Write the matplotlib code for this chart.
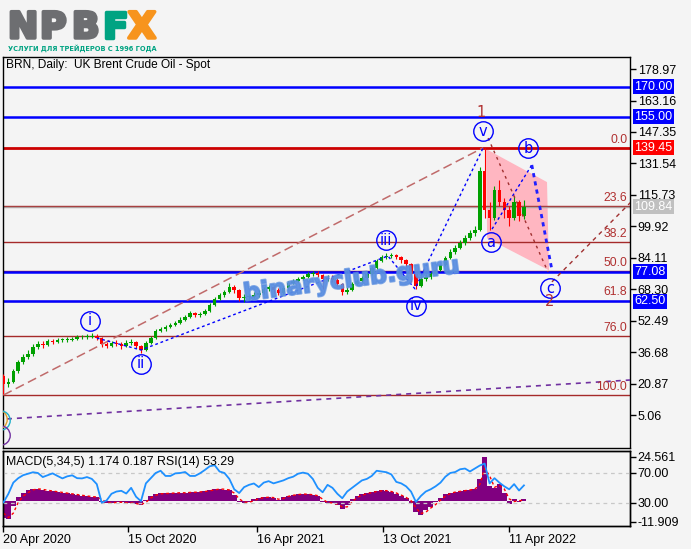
import matplotlib
matplotlib.use("Agg")
import matplotlib.pyplot as plt
import matplotlib.patheffects as pe
import numpy as np
import pandas as pd
from matplotlib.patches import Polygon

W, H = 691, 549
BG = "#f4f4f4"

# ---- data (weekly bars) ----
start = pd.Timestamp("2020-04-20")
first_open = 25.0
closes = [21, 22, 27.5, 32, 34.5, 36, 39.5, 41, 40.4, 42.5,
          42, 43, 43, 43, 43.4, 44.2, 44.6, 44.6, 45, 44,
          41, 40, 41.4, 41, 40, 41.4, 42, 40, 38, 41.5,
          44, 47.5, 48.5, 49.5, 50.5, 51.5, 53, 54.5, 56.5, 55.5,
          56, 57.5, 60.5, 63.5, 65.5, 67, 69.5, 68, 64, 64.5,
          64.7, 65.5, 66.5, 68.5, 69.5, 68, 66.5, 69, 71.5, 72.5,
          73.5, 74.5, 76, 76.5, 75.5, 73.5, 74, 73, 71, 67,
          68, 71, 72.5, 74, 76, 79, 82.5, 84.5, 85, 85.5,
          84.5, 83, 81, 76, 70, 73.5, 74.5, 76, 78, 80.5,
          84, 87, 89, 91.5, 94, 96.5, 98, 128, 108, 104,
          118, 112, 108, 104, 112, 105, 109.84]
lows = [15.5, 19.5, 21.5, 26.5, 31, 33.5, 35, 38.5, 39, 40,
        41, 41.5, 42, 42, 42.5, 43, 43.5, 43.5, 44, 43,
        39.5, 39, 39.5, 40, 38.5, 39.5, 40.5, 39, 36.5, 37.5,
        41, 43.5, 47, 47.5, 49, 50, 51, 52.5, 54, 54.5,
        54.5, 55.5, 57, 60, 63, 64.5, 66.5, 66.5, 62.5, 62,
        63, 64, 64.5, 66, 67.5, 66.5, 65.5, 66, 68.5, 71,
        72, 73, 74, 75, 74.5, 68.5, 72.5, 72, 70, 65.5,
        66, 67.5, 70.5, 72, 73.5, 75.5, 78.5, 82, 83.5, 84,
        83.5, 81.5, 79.5, 72, 68.5, 69.5, 72.5, 73.5, 75.5, 77.5,
        80, 83.5, 86, 88.5, 90.5, 93, 95, 97.5, 104, 98,
        103, 110, 104, 100, 103, 102.5, 103.5]
highs = [26, 24, 28.5, 33, 36, 38, 41, 42.5, 42.5, 43.5,
         43.5, 44, 44, 44.5, 44.5, 45.5, 45.5, 46, 46.5, 46,
         44.5, 42, 42.5, 43, 42, 43, 43.5, 42.5, 40.5, 42.5,
         45, 48.5, 49.5, 50.5, 51.5, 52.5, 54.5, 55.5, 57.5, 57,
         57, 58.5, 61.5, 64.5, 66.5, 68, 71.5, 70.5, 68.5, 66,
         66, 67, 68, 69.5, 70.5, 70, 69, 70, 72.5, 73.5,
         74.5, 75.5, 77, 77.5, 77.5, 76, 75.5, 75.5, 74, 71.5,
         69.5, 72, 73.5, 75, 77, 80, 83.5, 85.5, 86.5, 86.5,
         86, 85, 83.5, 81.5, 76, 75, 76, 77, 79, 81.5,
         85, 88.5, 90.5, 93, 95.5, 98, 100, 130, 139.45, 112,
         120, 123, 114, 110, 115, 113, 113]
rsi = [30.4, 42, 57, 63, 67, 69, 71, 70, 64.5, 67,
       69.5, 66, 62.7, 65.5, 66.8, 63, 62.7, 64.5, 62, 55,
       30, 33, 42, 45, 46, 42.3, 50, 38, 32, 56,
       63, 70, 73, 66, 66, 69.5, 70, 71.3, 66, 66,
       69.5, 74, 79, 80.5, 72, 70, 62, 48, 43, 50.9,
       54, 55.9, 51, 57, 59, 56, 58, 60, 63, 65,
       69, 70.5, 69, 62, 50, 44, 54, 50, 42, 36,
       45, 50, 55, 60, 62, 66, 73, 72, 71, 68,
       58, 56, 52, 45, 31, 39, 45, 48, 52, 57,
       65, 70, 71.3, 75, 76, 72, 76, 80, 82.7, 56,
       63, 57, 52, 48, 55, 46.4, 53.29]
macd = [-9.5, -10, -3, 2, 4.5, 6, 6.6, 6.5, 6, 5.5,
        5.2, 4.8, 4.5, 4, 3.6, 3.2, 2.8, 2.5, 2.2, 1.9,
        -0.5, -1.5, -1.2, -0.8, -1.0, -1.5, -1.2, -1.8, -2.5, 0.5,
        2.5, 3.5, 4, 4, 4.2, 4.5, 4.3, 4.5, 4.8, 4.7,
        5, 5.3, 5.8, 6.4, 6.6, 6.2, 5.7, 3, -0.5, -1.2,
        -0.8, 0.8, 1.5, 1.9, 1.9, 1.5, 0.2, 2, 2.8, 3.2,
        3.6, 3.8, 3.5, 3.2, 2.5, -0.8, -1.2, -1.5, -2.5, -4.5,
        -2.5, 1, 2.5, 3.5, 4.2, 4.8, 5.4, 5.7, 5.5, 4.8,
        3.8, 2.5, 1.2, -1.5, -6.5, -7.9, -5, -3.5, -1, 1.5,
        3.5, 4.5, 5, 5.5, 5.8, 6.2, 6.6, 12, 24.5, 8,
        7, 9.4, 4, -2, 0.9, -1, 1.174]
signal = [-7, -9.5, -7, -1, 2.5, 4.5, 6, 6.6, 6.3, 5.8,
          5.4, 5, 4.6, 4.2, 3.8, 3.4, 3, 2.6, 2.3, 2,
          0.8, -1, -1.3, -1, -0.9, -1.2, -1.3, -1.6, -2.2, -1,
          1.5, 3, 3.8, 4, 4.1, 4.3, 4.4, 4.4, 4.6, 4.7,
          4.9, 5.1, 5.5, 6, 6.5, 6.4, 6, 4.2, 1, -0.8,
          -1, 0, 1.1, 1.7, 1.9, 1.7, 0.8, 1.2, 2.4, 3,
          3.4, 3.7, 3.6, 3.3, 2.8, 0.8, -1, -1.3, -2, -3.5,
          -3.5, -0.8, 1.8, 3, 3.9, 4.5, 5.1, 5.5, 5.6, 5.1,
          4.3, 3.1, 1.8, 0, -4, -7.2, -6.5, -4.2, -2.2, 0.3,
          2.5, 4, 4.8, 5.2, 5.6, 6, 6.4, 9, 18, 14,
          7.5, 8.5, 6.5, 1, -0.5, 0, 0.187]

fib_high, fib_low = 139.45, 15.3
fib_ratios = [0.0, 23.6, 38.2, 50.0, 61.8, 76.0, 100.0]
blue_levels = [170.00, 155.00, 77.08, 62.50]
last_price = 109.84
price_ticks = [178.97, 163.16, 147.35, 131.54, 115.73, 99.92,
               84.11, 68.30, 52.49, 36.68, 20.87, 5.06]
date_ticks = ["2020-04-20", "2020-10-15", "2021-04-16", "2021-10-13", "2022-04-11"]
date_labels = ["20 Apr 2020", "15 Oct 2020", "16 Apr 2021", "13 Oct 2021", "11 Apr 2022"]

# wave marks, x in bars (weeks from start)
wave_names = ["i", "ii", "iii", "iv", "v", "a", "b", "c"]
wave_x = [17.6, 28.0, 77.9, 84.0, 97.7, 99.3, 106.8, 111.3]
wave_y = [52.5, 30.9, 93.1, 60.0, 147.8, 92.1, 139.3, 69.0]
degree_names = ["1", "2"]
degree_x = [97.3, 111.3]
degree_y = [156.9, 62.0]
impulse_x = [19.0, 28.0, 78.3, 83.8, 97.7]
impulse_y = [43.9, 37.9, 85.1, 68.6, 139.45]
ab_x, ab_y = [99.5, 107.6], [98.6, 130.8]
bc_x, bc_y = [107.6, 111.7], [130.8, 78.1]
vc_x, vc_y = [98.7, 110.9], [144.3, 77.1]
proj_x, proj_y = [111.7, 130.0], [72.1, 117.7]
trend_x, trend_y = [0.0, 97.7], [15.3, 139.45]
cycle_x, cycle_y = [0.7, 130.0], [3.3, 23.2]
channel_x = [98.3, 110.7, 111.1, 98.5]
channel_y = [138.8, 122.2, 77.9, 94.0]
start_mark_x = [-1.3, -0.7, -0.8]
start_mark_y = [3.5, 2.8, -5.0]
start_mark_colors = ["#e0a030", "#20b0c8", "#7030a0"]

plt.rcParams["font.family"] = ["Liberation Sans", "DejaVu Sans"]


def px_axes(l, t, r, b):
    return [l / W, 1 - b / H, (r - l) / W, (b - t) / H]


fig = plt.figure(figsize=(W / 100, H / 100), dpi=100, facecolor=BG)
ax = fig.add_axes(px_axes(3, 57, 630, 448), facecolor=BG)
axs = fig.add_axes(px_axes(3, 451, 630, 526), facecolor=BG)

dates = pd.date_range(start, periods=len(closes), freq="7D")
x = np.asarray((dates - start).days / 7.0)
c = np.array(closes, float)
o = np.array([first_open] + closes[:-1], float)
col = np.where(c >= o, "#00a000", "#ff0000")

# pink channel under the candles
ax.add_patch(Polygon(list(zip(channel_x, channel_y)), closed=True,
                     fc="#ffb6c1", ec="none", zorder=1.5))

# fibonacci levels
for r in fib_ratios:
    lvl = fib_high - r / 100.0 * (fib_high - fib_low)
    ax.axhline(lvl, color="#cc0000" if r == 0 else "#a52a2a",
               lw=2 if r == 0 else 1, zorder=2)
    ax.annotate(f"{r:.1f}", xy=(1, lvl), xycoords=("axes fraction", "data"),
                xytext=(-2, 1.5), textcoords="offset points", ha="right",
                va="bottom", color="#b03030", fontsize=8.8, zorder=8)
for lvl in blue_levels:
    ax.axhline(lvl, color="#0000ff", lw=1.8, zorder=2.5)
ax.axhline(last_price, color="#b0a0a0", lw=1, zorder=2)

# candles
ax.vlines(x, lows, highs, colors=col, lw=0.8, zorder=4)
ax.bar(x, np.maximum(np.abs(c - o), 0.3), bottom=np.minimum(o, c), width=0.72,
       color=col, linewidth=0, zorder=5)

# wave lines
ax.plot(trend_x, trend_y, color="#c06a6a", lw=1.1, ls=(0, (6, 3)), zorder=6)
ax.plot(impulse_x, impulse_y, color="#0000ff", lw=1, ls=(0, (2, 2)), zorder=6)
ax.plot(ab_x, ab_y, color="#0000ff", lw=1, ls=(0, (2, 2)), zorder=6)
ax.plot(bc_x, bc_y, color="#2020ff", lw=2, ls=(0, (1.5, 1.5)), zorder=6)
ax.plot(vc_x, vc_y, color="#a03030", lw=1, ls=(0, (2, 3)), zorder=6)
ax.plot(proj_x, proj_y, color="#a03030", lw=1, ls=(0, (3, 3)), zorder=6)
ax.plot(cycle_x, cycle_y, color="#7030a0", lw=1.2, ls=(0, (3, 3)), zorder=6)

for name, wx, wy in zip(wave_names, wave_x, wave_y):
    ax.plot(wx, wy, "o", ms=14, mfc="none", mec="#0000ff", mew=1, zorder=7)
    ax.text(wx, wy, name, color="#0000ff", fontsize=10.5, ha="center",
            va="center", zorder=8, family=["DejaVu Sans"])
for name, dx, dy in zip(degree_names, degree_x, degree_y):
    ax.text(dx, dy, name, color="#b03030", fontsize=10.5, ha="center",
            va="center", zorder=8, family=["DejaVu Sans"])
for mx, my, mc in zip(start_mark_x, start_mark_y, start_mark_colors):
    ax.plot(mx, my, "o", ms=14, mfc="none", mec=mc, mew=1, zorder=7)

ax.set_xlim(-0.1, 127.6)
ax.set_ylim(-11.3, 185.0)
ax.yaxis.tick_right()
ax.set_yticks(price_ticks)
ax.set_yticklabels([f"{v:.2f}" for v in price_ticks])
ax.tick_params(axis="y", length=4, width=1, pad=1.5, labelsize=9, direction="out")
ax.tick_params(axis="x", bottom=False, labelbottom=False)


def price_box(val, fc):
    ax.annotate(f"{val:.2f}", xy=(1, val), xycoords=("axes fraction", "data"),
                xytext=(3.2, 0), textcoords="offset points", ha="left",
                va="center", color="white", fontsize=9, annotation_clip=False,
                bbox=dict(boxstyle="square,pad=0.12", fc=fc, ec="none"))


for lvl in blue_levels:
    price_box(lvl, "#0000ff")
price_box(fib_high, "#ff0000")
price_box(last_price, "#c0c0c0")

# ---- MACD / RSI panel ----
axs.bar(x, macd, width=1.0, color="#800080", linewidth=0, zorder=2)
axs.plot(x, signal, color="#ff0000", lw=1, ls=(0, (2, 2)), zorder=3)
axs.set_ylim(-14.2, 27.8)
axs.set_xlim(-0.1, 127.6)

axr = axs.twinx()
axr.set_facecolor("none")
axr.axhline(70, color="#c8c8c8", lw=0.9, ls=(0, (3, 3)), zorder=1)
axr.axhline(30, color="#c8c8c8", lw=0.9, ls=(0, (3, 3)), zorder=1)
axr.plot(x, rsi, color="#1e90ff", lw=1.3, zorder=4)
axr.set_ylim(-1.4, 99.6)
axr.set_yticks([70, 30])
axr.set_yticklabels(["70.00", "30.00"])

# twinx moves the base ticks to the left, so put them back on the right
axs.yaxis.tick_right()
axs.set_yticks([24.561, -11.909])
axs.set_yticklabels(["24.561", "-11.909"])

tick_x = (pd.to_datetime(date_ticks) - start).days / 7.0
axs.set_xticks(tick_x)
axs.set_xticklabels(date_labels)
for lbl in axs.get_xticklabels():
    lbl.set_ha("left")
for a in (axs, axr):
    a.tick_params(axis="y", length=4, width=1, pad=1.5, labelsize=9, direction="out")
axs.tick_params(axis="x", length=4, width=1, pad=2, labelsize=9, direction="out")

for a in (ax, axs, axr):
    for s in a.spines.values():
        s.set_linewidth(1)
        s.set_color("black")

# ---- texts ----
title = fig.text(6 / W, 1 - 65 / H, "BRN, Daily:  UK Brent Crude Oil - Spot",
                 fontsize=8.5, va="center", ha="left")
sub = fig.text(6 / W, 1 - 462 / H, "MACD(5,34,5) 1.174 0.187 RSI(14) 53.29",
               fontsize=8, va="center", ha="left")

logo_letters = ["N", "P", "B", "F", "X"]
logo_x = [8, 40, 72, 103, 128]
logo_colors = ["#6d6e71", "#6d6e71", "#6d6e71", "#00a382", "#f7941d"]
for ch, lx, lc in zip(logo_letters, logo_x, logo_colors):
    fig.text(lx / W, 1 - 38 / H, ch, fontsize=26, fontweight="bold", color=lc,
             ha="left", va="baseline", family=["DejaVu Sans"],
             path_effects=[pe.withStroke(linewidth=2.5, foreground=lc)])
tagline = fig.text(8 / W, 1 - 51 / H, "УСЛУГИ ДЛЯ ТРЕЙДЕРОВ С 1996 ГОДА",
                   fontsize=7, fontweight="bold", color="#00a382", ha="left",
                   va="baseline", family=["DejaVu Sans"])
mark = ax.text(0.555, 0.43, "binaryclub.guru", transform=ax.transAxes,
               fontsize=21, fontweight="bold", color="#5a8ee0", alpha=0.75,
               ha="center", va="center", zorder=9, family=["DejaVu Sans"],
               path_effects=[pe.withStroke(linewidth=1.5, foreground="#5a8ee0")])

# fit a few texts to the widths seen in the reference
fig.canvas.draw()
rend = fig.canvas.get_renderer()
for t, target in [(title, 204), (sub, 229), (tagline, 150), (mark, 218)]:
    w = t.get_window_extent(rend).width
    t.set_fontsize(t.get_fontsize() * target / w)
mark.set_rotation(7.5)
mark.set_rotation_mode("anchor")

fig.savefig("out.png", dpi=100, facecolor=BG)
